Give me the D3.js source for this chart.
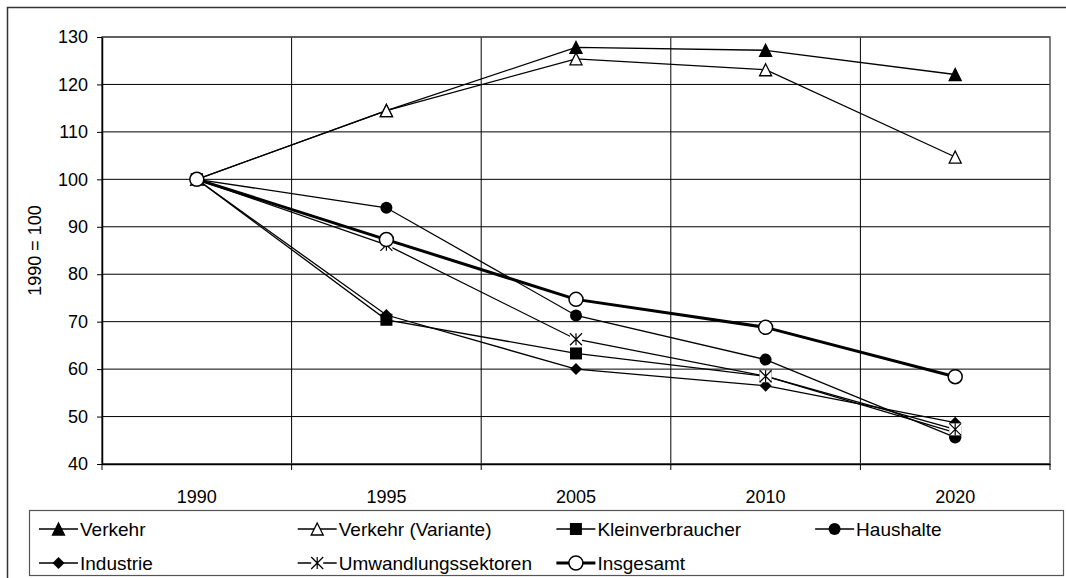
<!DOCTYPE html>
<meta charset="utf-8">
<script src="https://d3js.org/d3.v7.min.js"></script>
<style>
  body { margin: 0; background: #fff; }
  svg { display: block; font-family: "Liberation Sans", Arial, sans-serif; }
</style>
<div id="my_dataviz"></div>
<script>
  // categories and values (index 1990 = 100)
  var years = ["1990", "1995", "2005", "2010", "2020"];
  var yTicks = [40, 50, 60, 70, 80, 90, 100, 110, 120, 130];

  var verkehr = [100, 114.5, 127.8, 127.2, 122.1];
  var verkehrVariante = [100, 114.5, 125.4, 123.1, 104.7];
  var kleinverbraucher = [100, 70.4, 63.3, 58.5, 46.6];
  var haushalte = [100, 94.0, 71.3, 62.0, 45.6];
  var industrie = [100, 71.4, 60.0, 56.5, 48.7];
  var umwandlung = [100, 86.2, 66.3, 58.5, 47.3];
  var insgesamt = [100, 87.3, 74.7, 68.8, 58.4];

  var seriesNames = ["Verkehr", "Verkehr (Variante)", "Kleinverbraucher", "Haushalte",
    "Industrie", "Umwandlungssektoren", "Insgesamt"];
  var seriesValues = [verkehr, verkehrVariante, kleinverbraucher, haushalte,
    industrie, umwandlung, insgesamt];
  var seriesMarkers = ["triFilled", "triOpen", "square", "dot", "diamond", "star", "ring"];

  // layout
  var W = 1066, H = 578;
  var plot = { left: 102, right: 1050, top: 37, bottom: 464 };

  var svg = d3.select("#my_dataviz")
    .append("svg")
    .attr("width", W)
    .attr("height", H);

  // outer chart border (runs off the right / bottom edge)
  svg.append("rect")
    .attr("x", 7.5).attr("y", 7.5)
    .attr("width", W + 20).attr("height", H + 20)
    .attr("fill", "none")
    .attr("stroke", "#333")
    .attr("stroke-width", 1.5);

  var x = d3.scaleBand()
    .domain(years)
    .range([plot.left, plot.right])
    .padding(0);

  var y = d3.scaleLinear()
    .domain([40, 130])
    .range([plot.bottom, plot.top]);

  var cx = function(i) { return x(years[i]) + x.bandwidth() / 2; };

  // horizontal grid
  svg.append("g")
    .selectAll("line")
    .data(yTicks)
    .enter()
    .append("line")
    .attr("x1", plot.left).attr("x2", plot.right)
    .attr("y1", function(d) { return y(d); })
    .attr("y2", function(d) { return y(d); })
    .attr("stroke", "#000")
    .attr("stroke-width", 1);

  // vertical grid at category boundaries
  svg.append("g")
    .selectAll("line")
    .data(years.slice(1))
    .enter()
    .append("line")
    .attr("x1", function(d) { return x(d); })
    .attr("x2", function(d) { return x(d); })
    .attr("y1", plot.top).attr("y2", plot.bottom)
    .attr("stroke", "#000")
    .attr("stroke-width", 1);

  // plot area frame
  svg.append("rect")
    .attr("x", plot.left).attr("y", plot.top)
    .attr("width", plot.right - plot.left)
    .attr("height", plot.bottom - plot.top)
    .attr("fill", "none")
    .attr("stroke", "#555")
    .attr("stroke-width", 1.5);

  // y axis
  var yAxis = svg.append("g")
    .attr("transform", "translate(" + plot.left + ",0)")
    .call(d3.axisLeft(y).tickValues(yTicks).tickSize(5).tickPadding(9).tickSizeOuter(0));
  yAxis.selectAll("text").style("font-size", "18px").attr("fill", "#000")
    .attr("font-family", "Liberation Sans, Arial, sans-serif");
  yAxis.selectAll("line").attr("stroke", "#000");
  yAxis.select(".domain").attr("stroke", "#000").attr("stroke-width", 1.5);

  // x axis: labels centred in categories, tick marks at boundaries
  var xAxis = svg.append("g")
    .attr("transform", "translate(0," + plot.bottom + ")")
    .call(d3.axisBottom(x).tickSize(0).tickPadding(26).tickSizeOuter(0));
  xAxis.selectAll("text").style("font-size", "18px").attr("fill", "#000")
    .attr("font-family", "Liberation Sans, Arial, sans-serif");
  xAxis.select(".domain").attr("stroke", "#000").attr("stroke-width", 1.5);

  svg.append("g")
    .selectAll("line")
    .data(years.concat(["end"]))
    .enter()
    .append("line")
    .attr("x1", function(d, i) { return i < years.length ? x(d) : plot.right; })
    .attr("x2", function(d, i) { return i < years.length ? x(d) : plot.right; })
    .attr("y1", plot.bottom).attr("y2", plot.bottom + 6)
    .attr("stroke", "#000");

  // y axis title
  svg.append("text")
    .attr("transform", "translate(41," + ((plot.top + plot.bottom) / 2) + ") rotate(-90)")
    .attr("text-anchor", "middle")
    .style("font-size", "18px")
    .text("1990 = 100");

  // marker drawing
  function drawMarker(g, type) {
    var s = 6;
    if (type === "triFilled" || type === "triOpen") {
      g.append("path")
        .attr("d", "M0," + (-s) + "L" + s + "," + s + "L" + (-s) + "," + s + "Z")
        .attr("fill", type === "triFilled" ? "#000" : "#fff")
        .attr("stroke", "#000").attr("stroke-width", 1.3);
    } else if (type === "square") {
      g.append("rect")
        .attr("x", -s).attr("y", -s).attr("width", 2 * s).attr("height", 2 * s)
        .attr("fill", "#000");
    } else if (type === "dot") {
      g.append("circle").attr("r", s).attr("fill", "#000");
    } else if (type === "diamond") {
      g.append("path")
        .attr("d", "M0," + (-s) + "L" + s + ",0L0," + s + "L" + (-s) + ",0Z")
        .attr("fill", "#000");
    } else if (type === "star") {
      g.append("rect")
        .attr("x", -s).attr("y", -s).attr("width", 2 * s).attr("height", 2 * s)
        .attr("fill", "#fff");
      g.append("path")
        .attr("d", "M" + (-s) + "," + (-s) + "L" + s + "," + s +
          "M" + s + "," + (-s) + "L" + (-s) + "," + s +
          "M0," + (-s) + "L0," + s)
        .attr("stroke", "#000").attr("stroke-width", 1.2).attr("fill", "none");
    } else if (type === "ring") {
      g.append("circle").attr("r", 7)
        .attr("fill", "#fff").attr("stroke", "#000").attr("stroke-width", 1.5);
    }
  }

  var line = d3.line()
    .x(function(d, i) { return cx(i); })
    .y(function(d) { return y(d); });

  // lines + markers
  seriesValues.forEach(function(vals, k) {
    var thick = seriesMarkers[k] === "ring";
    var g = svg.append("g");
    g.append("path")
      .datum(vals)
      .attr("d", line)
      .attr("fill", "none")
      .attr("stroke", "#000")
      .attr("stroke-width", thick ? 3 : 1.3);
    g.selectAll(".m")
      .data(vals)
      .enter()
      .append("g")
      .attr("class", "m")
      .attr("transform", function(d, i) { return "translate(" + cx(i) + "," + y(d) + ")"; })
      .each(function() { drawMarker(d3.select(this), seriesMarkers[k]); });
  });

  // legend
  var legend = { left: 29, top: 510, right: 1063, bottom: 575, col0: 39, colW: 258.7, row0: 529, rowH: 34 };
  svg.append("rect")
    .attr("x", legend.left + 0.5).attr("y", legend.top + 0.5)
    .attr("width", legend.right - legend.left)
    .attr("height", legend.bottom - legend.top)
    .attr("fill", "#fff")
    .attr("stroke", "#555").attr("stroke-width", 1.2);

  seriesNames.forEach(function(name, k) {
    var col = k < 4 ? k : k - 4;
    var row = k < 4 ? 0 : 1;
    var lx = legend.col0 + col * legend.colW;
    var ly = legend.row0 + row * legend.rowH;
    var item = svg.append("g").attr("transform", "translate(" + lx + "," + ly + ")");
    item.append("line")
      .attr("x1", 0).attr("x2", 39).attr("y1", 0).attr("y2", 0)
      .attr("stroke", "#000")
      .attr("stroke-width", seriesMarkers[k] === "ring" ? 3 : 1.3);
    drawMarker(item.append("g").attr("transform", "translate(19.5,0)"), seriesMarkers[k]);
    item.append("text")
      .attr("x", 41).attr("y", 0).attr("dy", "0.35em")
      .style("font-size", "19px")
      .text(name);
  });
</script>
